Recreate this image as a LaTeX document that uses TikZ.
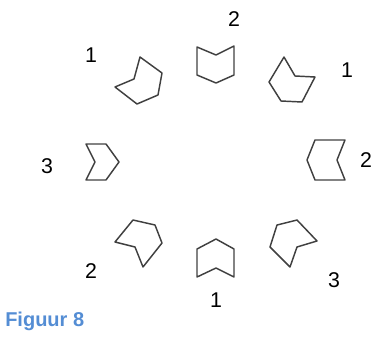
\documentclass[tikz,border=0pt]{standalone}
\usepackage{fontspec}
\setmainfont{Liberation Sans}
\definecolor{capblue}{RGB}{84,141,212}

\begin{document}
\begin{tikzpicture}[x=0.75pt, y=-0.75pt,
		piece/.style={draw=black!75, line width=1.1pt, line join=round},
		num/.style={font=\fontsize{16}{18}\selectfont, inner sep=0pt}]
		\useasboundingbox (0,0) rectangle (374,336);
		% the eight pieces round the circle
		\draw[piece] (197,47) -- (216,55) -- (234,46) -- (234,75) -- (216,83) -- (197,75) -- cycle;
		\draw[piece] (140,57) -- (162,73) -- (158,95) -- (137,104) -- (115,87) -- (134,79) -- cycle;
		\draw[piece] (284,57) -- (295,76) -- (315,77) -- (302,102) -- (281,101) -- (269,82) -- cycle;
		\draw[piece] (86,144) -- (106,144) -- (119,162) -- (106,180) -- (86,180) -- (95,162) -- cycle;
		\draw[piece] (315,140) -- (345,140) -- (337,160) -- (345,180) -- (315,180) -- (307,160) -- cycle;
		\draw[piece] (133,220) -- (155,225) -- (162,243) -- (143,267) -- (135,247) -- (115,242) -- cycle;
		\draw[piece] (216,239) -- (234,249) -- (234,277) -- (216,268) -- (197,277) -- (197,249) -- cycle;
		\draw[piece] (277,225) -- (297,220) -- (317,241) -- (297,247) -- (290,267) -- (270,247) -- cycle;
		% labels
		\node[num] (lt)  at (234,19.5) {2};
		\node[num] (ltl) at (91,55)    {1};
		\node[num] (ltr) at (347,70)   {1};
		\node[num] (ll)  at (47,166)   {3};
		\node[num] (lr)  at (366,160)  {2};
		\node[num] (lbl) at (91,271)   {2};
		\node[num] (lb)  at (216,300)  {1};
		\node[num] (lbr) at (334,280)  {3};
		\node[anchor=west, inner sep=0pt, text=capblue, font=\fontsize{15}{17}\selectfont\bfseries] (cap) at (5,321) {Figuur 8};
	\end{tikzpicture}
\end{document}
